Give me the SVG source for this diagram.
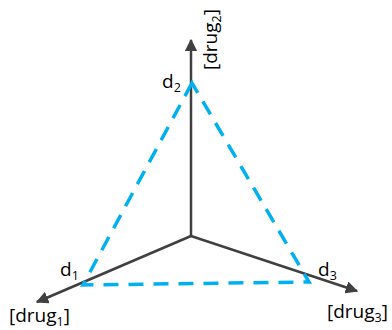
<svg xmlns="http://www.w3.org/2000/svg" width="392" height="330" viewBox="0 0 392 330">
<style>
.axis{stroke:#404040;stroke-width:2.5;fill:none}
.tri{stroke:#00b0f0;stroke-width:3.5;fill:none;stroke-dasharray:15,10}
text{font-family:"Open Sans","Liberation Sans",sans-serif;font-size:19px;fill:#000}
.sub{font-size:12.5px}
</style>
<defs>
<marker id="ah" viewBox="0 0 10 10" refX="9" refY="5" markerWidth="5" markerHeight="5" orient="auto" markerUnits="strokeWidth">
<path d="M0,0 L10,5 L0,10 z" fill="#404040"/>
</marker>
</defs>
<g id="connectors">
<line class="axis" x1="191" y1="236" x2="191" y2="40" marker-end="url(#ah)"/>
<line class="axis" x1="191" y1="236" x2="37" y2="302" marker-end="url(#ah)"/>
<line class="axis" x1="191" y1="236" x2="357" y2="291" marker-end="url(#ah)"/>
<path class="tri" d="M192,83 L83,285 L309,282 Z"/>
</g>
<g id="d1"><text x="60" y="276">d<tspan class="sub" dy="4">1</tspan></text></g>
<g id="d2"><text x="162" y="88">d<tspan class="sub" dy="4">2</tspan></text></g>
<g id="d3"><text x="318" y="276">d<tspan class="sub" dy="4">3</tspan></text></g>
<g id="drug1"><text x="9" y="322">[drug<tspan class="sub" dy="4">1</tspan><tspan dy="-4">]</tspan></text></g>
<g id="drug2"><text transform="translate(217,70) rotate(-90)">[drug<tspan class="sub" dy="4">2</tspan><tspan dy="-4">]</tspan></text></g>
<g id="drug3"><text x="327" y="318">[drug<tspan class="sub" dy="4">3</tspan><tspan dy="-4">]</tspan></text></g>
</svg>
